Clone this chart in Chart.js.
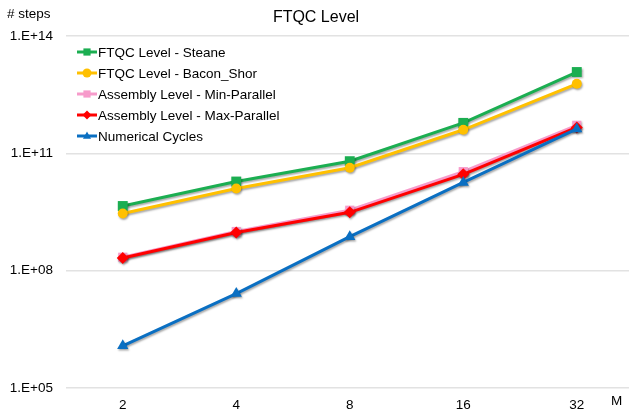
<!DOCTYPE html>
<html lang="en">
<head>
    <meta charset="UTF-8">
    <script src="https://cdn.jsdelivr.net/npm/chart.js"></script>
    <title>FTQC Level</title>
    <style>
        html, body { margin: 0; padding: 0; background: #fff; overflow: hidden; }
        #chart-container { position: relative; width: 629px; height: 415px; }
    </style>
</head>
<body>
    <div id="chart-container">
        <canvas id="ftqcChart"></canvas>
    </div>
    <script>
        // data
        var mValues = ['2', '4', '8', '16', '32'];
        var steane = [4.5e9, 1.9e10, 6.3e10, 6.0e11, 1.2e13];
        var baconShor = [2.9e9, 1.26e10, 4.3e10, 4.0e11, 6.0e12];
        var minParallel = [2.2e8, 1.0e9, 3.5e9, 3.4e10, 5.2e11];
        var maxParallel = [2.1e8, 9.5e8, 3.1e9, 2.9e10, 4.6e11];
        var numericalCycles = [1.2e6, 2.6e7, 7.4e8, 1.8e10, 4.2e11];
        var yTicks = [1e5, 1e8, 1e11, 1e14];

        var fontName = '"Liberation Sans", Arial, sans-serif';

        // x is the category index so the axis can run past the last M value
        function toPoints(values) {
            return values.map(function (v, i) { return { x: i, y: v }; });
        }

        function makeSet(label, data, color, pointStyle, radius, idx) {
            return {
                label: label, data: toPoints(data),
                borderColor: color, backgroundColor: color,
                pointBackgroundColor: color, pointBorderColor: color,
                pointStyle: pointStyle, pointRadius: radius, pointBorderWidth: 0,
                borderWidth: 3, tension: 0, order: -idx
            };
        }

        var datasets = [
            makeSet('FTQC Level - Steane', steane, '#1BAE51', 'rect', 7, 0),
            makeSet('FTQC Level - Bacon_Shor', baconShor, '#FFC000', 'circle', 5, 1),
            makeSet('Assembly Level - Min-Parallel', minParallel, '#F79BCB', 'rect', 6.5, 2),
            makeSet('Assembly Level - Max-Parallel', maxParallel, '#FF0000', 'rectRot', 6, 3),
            makeSet('Numerical Cycles', numericalCycles, '#0A6FC2', 'triangle', 6.5, 4)
        ];

        // slight shadow under lines like the original
        var shadowPlugin = {
            id: 'shadow',
            beforeDatasetsDraw: function (chart) {
                var ctx = chart.ctx;
                ctx.save();
                ctx.shadowColor = 'rgba(0,0,0,0.35)';
                ctx.shadowBlur = 2;
                ctx.shadowOffsetX = 1;
                ctx.shadowOffsetY = 1.5;
            },
            afterDatasetsDraw: function (chart) {
                chart.ctx.restore();
            }
        };

        function drawMarker(ctx, style, x, y, r) {
            ctx.beginPath();
            if (style == 'rect') {
                ctx.rect(x - r * 0.8, y - r * 0.8, r * 1.6, r * 1.6);
            } else if (style == 'circle') {
                ctx.arc(x, y, r, 0, Math.PI * 2);
            } else if (style == 'rectRot') {
                ctx.moveTo(x, y - r); ctx.lineTo(x + r, y); ctx.lineTo(x, y + r); ctx.lineTo(x - r, y);
            } else if (style == 'triangle') {
                ctx.moveTo(x, y - r); ctx.lineTo(x + r * 0.9, y + r * 0.6); ctx.lineTo(x - r * 0.9, y + r * 0.6);
            }
            ctx.closePath();
            ctx.fill();
        }

        var textPlugin = {
            id: 'texts',
            afterDraw: function (chart) {
                var ctx = chart.ctx;
                ctx.save();
                ctx.fillStyle = '#000';
                ctx.textBaseline = 'middle';
                ctx.textAlign = 'center';
                ctx.font = '16px ' + fontName;
                ctx.fillText('FTQC Level', 316, 18);
                ctx.textAlign = 'left';
                ctx.font = '13.5px ' + fontName;
                ctx.fillText('# steps', 7, 14);
                ctx.fillText('M', 611, 401);

                // legend inside plot
                var y0 = 52;
                chart.data.datasets.forEach(function (ds, i) {
                    var y = y0 + i * 21;
                    ctx.strokeStyle = ds.borderColor;
                    ctx.fillStyle = ds.borderColor;
                    ctx.lineWidth = 3;
                    ctx.beginPath();
                    ctx.moveTo(77, y);
                    ctx.lineTo(97, y);
                    ctx.stroke();
                    drawMarker(ctx, ds.pointStyle, 87, y, 4.5);
                    ctx.fillStyle = '#000';
                    ctx.fillText(ds.label, 98, y + 1);
                });
                ctx.restore();
            }
        };

        var ctx = document.getElementById('ftqcChart').getContext('2d');
        var ftqcChart = new Chart(ctx, {
            type: 'line',
            data: { datasets: datasets },
            options: {
                responsive: true,
                maintainAspectRatio: false,
                animation: false,
                layout: { autoPadding: false, padding: { top: 36, right: 0, left: 0, bottom: 0 } },
                plugins: {
                    legend: { display: false },
                    title: { display: false },
                    tooltip: { enabled: false }
                },
                scales: {
                    x: {
                        type: 'linear',
                        min: -0.5, max: 4.46,
                        afterBuildTicks: function (scale) {
                            scale.ticks = mValues.map(function (m, i) { return { value: i }; });
                        },
                        grid: { display: false, drawTicks: false },
                        border: { display: false },
                        ticks: {
                            color: '#000', font: { family: fontName, size: 13.5 }, padding: 9,
                            callback: function (v) { return mValues[v]; }
                        },
                        afterFit: function (scale) {
                            scale.height = 27;
                            scale.paddingLeft = 0;
                            scale.paddingRight = 0;
                        }
                    },
                    y: {
                        type: 'logarithmic',
                        min: 1e5, max: 1e14,
                        afterBuildTicks: function (scale) {
                            scale.ticks = yTicks.map(function (v) { return { value: v }; });
                        },
                        afterFit: function (scale) {
                            scale.width = 66;
                            scale.paddingTop = 0;
                            scale.paddingBottom = 0;
                        },
                        grid: { color: '#E2E2E2', lineWidth: 1.5, drawTicks: false },
                        border: { display: false },
                        ticks: {
                            color: '#000', padding: 13,
                            font: { family: fontName, size: 13.5 },
                            callback: function (v) {
                                var e = Math.round(Math.log10(v));
                                return '1.E+' + (e < 10 ? '0' + e : e);
                            }
                        }
                    }
                }
            },
            plugins: [shadowPlugin, textPlugin]
        });
    </script>
</body>
</html>
